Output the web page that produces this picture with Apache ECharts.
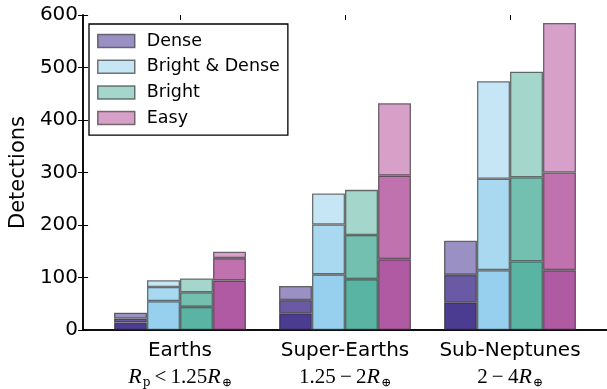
<!DOCTYPE html>
<html>
<head>
<meta charset="utf-8">
<script src="https://cdn.jsdelivr.net/npm/echarts@6/dist/echarts.min.js"></script>
<style>html,body{margin:0;padding:0;background:#fff}#c{width:607px;height:389px}</style>
</head>
<body>
<div id="c"></div>
<script>
const categories = ['Earths', 'Super-Earths', 'Sub-Neptunes'];
const rangeLabels = ['{i|R}{s|p}{n|\u2009<\u20091.25}{i|R}{s|⊕}', '{n|1.25\u2009−\u20092}{i|R}{s|⊕}', '{n|2\u2009−\u20094}{i|R}{s|⊕}'];
const yTicks = [0, 100, 200, 300, 400, 500, 600];

// cumulative levels per group (low / mid / high)
const denseLow = [14, 32, 53];
const denseMid = [22, 57, 105];
const denseHigh = [33, 84, 170];
const brightDenseLow = [55, 106, 114];
const brightDenseMid = [82, 201, 288];
const brightDenseHigh = [95, 260, 474];
const brightLow = [44, 97, 131];
const brightMid = [72, 181, 291];
const brightHigh = [98, 267, 492];
const easyLow = [94, 135, 114];
const easyMid = [137, 294, 300];
const easyHigh = [149, 432, 585];

const groups = [
  {name: 'Dense', levels: [denseLow, denseMid, denseHigh], colors: ['#4b3b91', '#6a5aa6', '#9a90c4']},
  {name: 'Bright & Dense', levels: [brightDenseLow, brightDenseMid, brightDenseHigh], colors: ['#97cfee', '#a8d9f1', '#c6e5f5']},
  {name: 'Bright', levels: [brightLow, brightMid, brightHigh], colors: ['#5ab4a3', '#74c0b0', '#a4d6cc']},
  {name: 'Easy', levels: [easyLow, easyMid, easyHigh], colors: ['#b05aa3', '#c072af', '#d6a0c9']}
];

const series = [];
groups.forEach((g, gi) => {
  for (let k = 0; k < 3; k++) {
    const data = g.levels[k].map((v, i) => k === 0 ? v : v - g.levels[k - 1][i]);
    series.push({
      type: 'bar',
      name: k === 2 ? g.name : g.name + ' ' + k,
      stack: 'g' + gi,
      xAxisIndex: 1,
      yAxisIndex: 2,
      data: data,
      barWidth: 33,
      barGap: '0%',
      itemStyle: {color: g.colors[k], borderColor: 'rgba(40,40,40,0.65)', borderWidth: 1.3},
      emphasis: {disabled: true}
    });
  }
});

const chart = echarts.init(document.getElementById('c'), null, {renderer: 'canvas'});
const lineStyle = {color: '#000', width: 1.5};
chart.setOption({
  animation: false,
  grid: [
    {left: 81, right: -2, top: 15, bottom: 59, show: false},
    {left: 97.5, width: 495, top: 15, bottom: 59, show: false}
  ],
  legend: {
    data: groups.map(g => g.name),
    orient: 'vertical',
    left: 89, top: 24,
    padding: [8, 8, 8, 8],
    itemWidth: 37, itemHeight: 13, itemGap: 7.7,
    icon: 'rect',
    borderColor: '#000', borderWidth: 1.3,
    itemStyle: {borderColor: 'rgba(60,60,60,0.7)', borderWidth: 1.5},
    textStyle: {fontFamily: 'DejaVu Sans', fontSize: 17.5, color: '#000', padding: [0, 0, 0, 7]},
    selectedMode: false
  },
  xAxis: [
    {gridIndex: 0, type: 'value', position: 'bottom', min: 0, max: 1, axisLine: {show: true, lineStyle}, axisTick: {show: false}, axisLabel: {show: false}, splitLine: {show: false}},
    {gridIndex: 1, type: 'category', position: 'bottom', data: categories,
      axisLine: {show: false}, axisTick: {show: false},
      axisLabel: {
        interval: 0, hideOverlap: false,
        margin: 9,
        formatter: (v, i) => '{t|' + v + '}\n' + rangeLabels[i],
        rich: {
          t: {fontFamily: 'DejaVu Sans', fontSize: 20, color: '#000', lineHeight: 24},
          i: {fontFamily: 'Liberation Serif', fontStyle: 'italic', fontSize: 22, color: '#000', lineHeight: 28},
          n: {fontFamily: 'Liberation Serif', fontSize: 21, color: '#000', lineHeight: 28},
          s: {fontFamily: 'DejaVu Serif', fontSize: 12, color: '#000', lineHeight: 28, padding: [11, 0, 0, 1]}
        }
      }},
    {gridIndex: 0, type: 'value', position: 'top', min: 0, max: 1, axisLine: {show: true, lineStyle}, axisTick: {show: false}, axisLabel: {show: false}, splitLine: {show: false}},
    {gridIndex: 1, type: 'category', position: 'top', data: categories,
      axisLine: {show: false}, axisTick: {show: true, inside: true, alignWithLabel: true, length: 5, lineStyle: {color: '#000', width: 1}},
      axisLabel: {show: false}}
  ],
  yAxis: [
    {gridIndex: 0, type: 'value', position: 'left', min: 0, max: 600, interval: 100,
      axisLine: {show: true, lineStyle}, axisTick: {show: true, inside: true, length: 5, lineStyle: {color: '#000', width: 1}},
      axisLabel: {margin: 5, fontFamily: 'DejaVu Sans', fontSize: 20, color: '#000', formatter: v => yTicks.includes(v) ? String(v) : ''},
      splitLine: {show: false},
      name: 'Detections', nameLocation: 'middle', nameGap: 52, nameRotate: 90,
      nameTextStyle: {fontFamily: 'DejaVu Sans', fontSize: 21, color: '#000'}},
    {gridIndex: 0, type: 'value', position: 'right', min: 0, max: 600, interval: 100,
      axisLine: {show: true, lineStyle}, axisTick: {show: true, inside: true, length: 5, lineStyle: {color: '#000', width: 1}},
      axisLabel: {show: false}, splitLine: {show: false}},
    {gridIndex: 1, type: 'value', min: 0, max: 600, show: false, splitLine: {show: false}}
  ],
  series: series
});
</script>
</body>
</html>
